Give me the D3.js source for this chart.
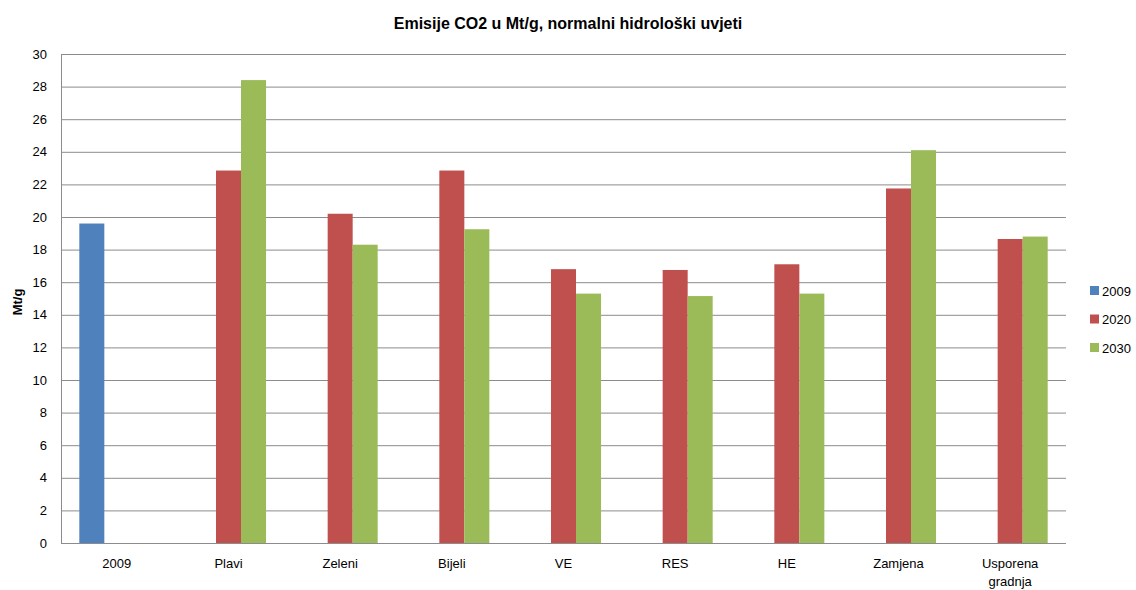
<!DOCTYPE html>
<html><head><meta charset="utf-8">
<script src="https://cdn.jsdelivr.net/npm/d3@7"></script>
<style>body{margin:0;background:#fff}svg{display:block}text{font-family:"Liberation Sans",Arial,sans-serif}</style>
</head><body><svg id="c" width="1136" height="590"></svg>
<script>
const categories = ["2009","Plavi","Zeleni","Bijeli","VE","RES","HE","Zamjena","Usporena gradnja"];
const seriesNames = ["2009","2020","2030"];
const values2009 = [19.6,null,null,null,null,null,null,null,null];
const values2020 = [null,22.85,20.2,22.85,16.8,16.75,17.1,21.75,18.65];
const values2030 = [null,28.4,18.3,19.25,15.3,15.15,15.3,24.1,18.8];
const yTicks = [0,2,4,6,8,10,12,14,16,18,20,22,24,26,28,30];
const colors = ["#4F81BD","#C0504D","#9BBB59"];
const series = [values2009, values2020, values2030];

const svg = d3.select("#c");
const L = 61, R = 1066, T = 54, B = 543;
const x = d3.scaleBand().domain(categories).range([L, R]).paddingInner(0.328).paddingOuter(0.164);
const xs = d3.scaleBand().domain(seriesNames).range([0, x.bandwidth()]);
const y = d3.scaleLinear().domain([0, 30]).range([B, T]);

// gridlines
svg.append("g").selectAll("line").data(yTicks).join("line")
  .attr("x1", L).attr("x2", R).attr("y1", d => y(d)+0.5).attr("y2", d => y(d)+0.5)
  .attr("stroke", "#8c8c8c").attr("stroke-width", 1);

// bars
series.forEach((vals, si) => {
  svg.append("g").selectAll("rect").data(categories.map((c,i)=>({c, v: vals[i]})).filter(d=>d.v!=null)).join("rect")
    .attr("x", d => x(d.c) + xs(seriesNames[si]))
    .attr("width", xs.bandwidth())
    .attr("y", d => y(d.v))
    .attr("height", d => y(0) - y(d.v))
    .attr("fill", colors[si]);
});

// axes lines
svg.append("line").attr("x1", L+0.5).attr("x2", L+0.5).attr("y1", T).attr("y2", B+0.5).attr("stroke", "#8c8c8c");
svg.append("line").attr("x1", L).attr("x2", R).attr("y1", B+0.5).attr("y2", B+0.5).attr("stroke", "#8c8c8c");

// y tick labels
svg.append("g").selectAll("text").data(yTicks).join("text")
  .attr("x", 47).attr("y", d => y(d)).attr("dy", "0.35em").attr("text-anchor", "end")
  .attr("font-size", 13).attr("fill", "#000").text(d => d);

// x labels
const xl = svg.append("g").selectAll("text").data(categories).join("text")
  .attr("x", d => x(d) + x.bandwidth()/2).attr("y", 568).attr("text-anchor", "middle")
  .attr("font-size", 13).attr("fill", "#000");
xl.each(function(d){
  const words = d.split(" ");
  const t = d3.select(this);
  words.forEach((w,i)=> t.append("tspan").attr("x", x(d)+x.bandwidth()/2).attr("dy", i===0?0:18).text(w));
});

// title
svg.append("text").attr("x", 568).attr("y", 29).attr("text-anchor", "middle")
  .attr("font-size", 16).attr("font-weight", "bold").text("Emisije CO2 u Mt/g, normalni hidrološki uvjeti");

// y axis title
svg.append("text").attr("transform", "translate(22,302) rotate(-90)").attr("text-anchor", "middle")
  .attr("font-size", 13).attr("font-weight", "bold").text("Mt/g");

// legend
const lg = svg.append("g").selectAll("g").data(seriesNames).join("g")
  .attr("transform", (d,i) => `translate(1090,${291 + i*28.5})`);
lg.append("rect").attr("x", 0).attr("y", -5).attr("width", 9).attr("height", 9).attr("fill", (d,i)=>colors[i]);
lg.append("text").attr("x", 12).attr("y", 0).attr("dy", "0.35em").attr("font-size", 13).text(d=>d);
</script></body></html>
